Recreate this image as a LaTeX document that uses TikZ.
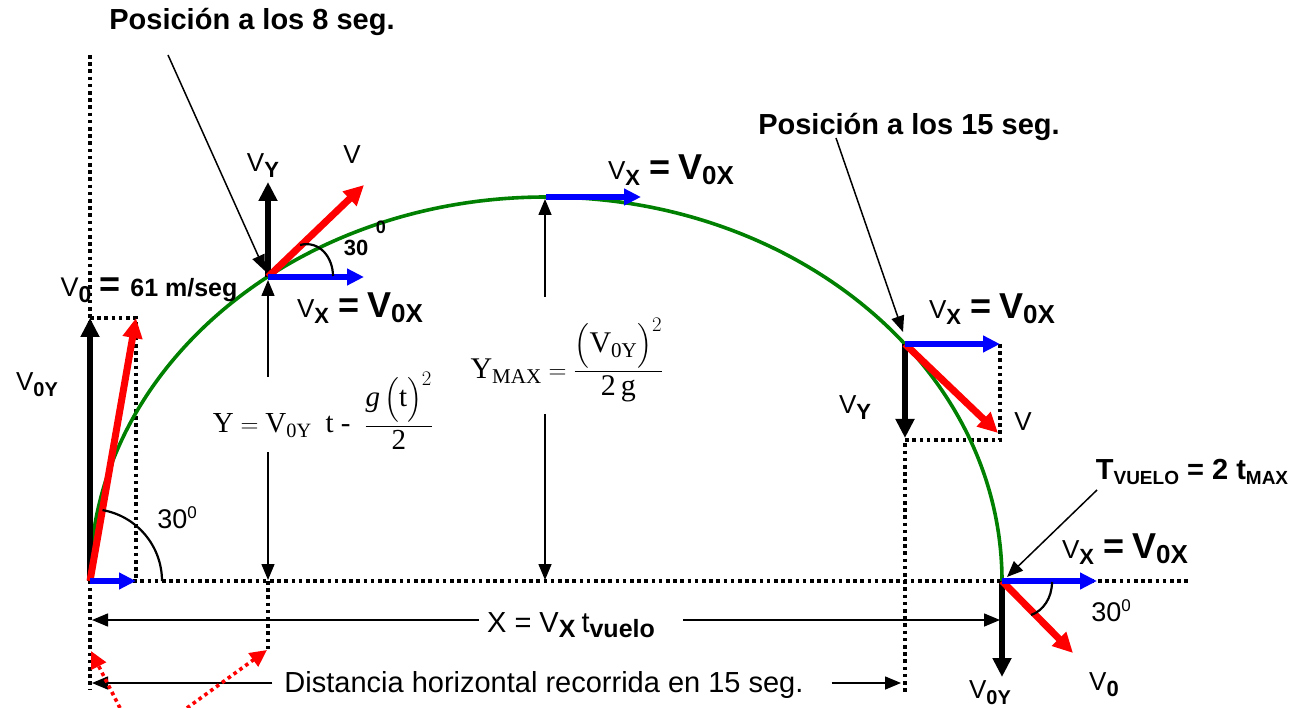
\documentclass[tikz,border=0pt]{standalone}
\usepackage{amsmath}
\usepackage[no-math]{fontspec}
\setmainfont{Liberation Sans}
\newfontfamily\serifs{Liberation Serif}
\usetikzlibrary{arrows.meta}
\newcommand{\fs}[1]{\fontsize{#1}{#1}\selectfont}
\newcommand{\vxeq}{{\fs{26}V}\raisebox{-6pt}{\bfseries\fs{22}X}\hspace{9pt}{\bfseries\fs{36}=\hspace{8pt}V}\raisebox{-5pt}{\bfseries\fs{26}0X}}
\newcommand{\vy}{{\fs{26}V}\raisebox{-6pt}{\bfseries\fs{22}Y}}
\newcommand{\voy}{{\fs{26}V}\raisebox{-6pt}{\bfseries\fs{20}0Y}}
\newcommand{\vo}{{\fs{26}V}\raisebox{-6pt}{\bfseries\fs{22}0}}
\newcommand{\thirty}{{\fs{27}30}\raisebox{10pt}{\fs{17}0}}
\begin{document}
\begin{tikzpicture}[x=1pt,y=-1pt,
  vecb/.style={line width=6pt,black,-{Triangle[length=19pt,width=18pt]}},
  vecr/.style={line width=7pt,red,-{Triangle[length=20pt,width=19pt]}},
  vecu/.style={line width=5.5pt,blue,-{Triangle[length=17pt,width=16pt]}},
  dimar/.style={line width=1.5pt,black,-{Triangle[length=16pt,width=13pt]}},
  dotl/.style={line width=3.6pt,dash pattern=on 3.6pt off 3.6pt},
  reddot/.style={line width=3.6pt,red,dash pattern=on 3.6pt off 3.6pt,-{Triangle[length=17pt,width=16pt]}},
  traj/.style={line width=3.6pt,green!50!black},
  lbl/.style={inner sep=0pt},
  angarc/.style={line width=2.2pt,black}
]
\useasboundingbox (0,0) rectangle (1304,708);
% key points
\coordinate (O) at (90,581);
\coordinate (P8) at (268,277);
\coordinate (A) at (546,197);
\coordinate (P15) at (905,344);
\coordinate (E) at (1002,581);
% dotted guide lines
\draw[dotl] (90,55) -- (90,690);
\draw[dotl] (O) -- (1190,581);
\draw[dotl] (90,318) -- (136,318) -- (136,581);
\draw[dotl] (268,581) -- (268,650);
\draw[dotl] (1000,344) -- (1000,440) -- (905,440) -- (905,693);
% trajectory
\draw[traj] (O) arc[start angle=180,end angle=360,x radius=456,y radius=384];
% origin vectors
\coordinate (O1) at (90,318);
\coordinate (O2) at (136,318);
\coordinate (O3) at (136,581);
\draw[vecb] (O) -- (O1);
\draw[vecr] (O) -- (O2);
\draw[vecu] (O) -- (O3);
\draw[angarc] (162,581) arc[start angle=0,end angle=-80,radius=72];
% 8 s vectors
\coordinate (P8y) at (268,182);
\coordinate (P8v) at (364,185);
\coordinate (P8x) at (364,277);
\draw[vecb] (P8) -- (P8y);
\draw[vecr] (P8) -- (P8v);
\draw[vecu] (P8) -- (P8x);
\draw[angarc] (300,245) .. controls (320,240) and (333,258) .. (333,276);
% apex
\coordinate (Ax) at (641,197);
\draw[vecu] (A) -- (Ax);
% 15 s vectors
\coordinate (P15x) at (1000,344);
\coordinate (P15y) at (905,438);
\coordinate (P15v) at (998,433);
\draw[vecb] (P15) -- (P15y);
\draw[vecr] (P15) -- (P15v);
\draw[vecu] (P15) -- (P15x);
% end vectors
\coordinate (Ey) at (1002,677);
\coordinate (Ev) at (1073,653);
\coordinate (Ex) at (1097,581);
\draw[vecb] (E) -- (Ey);
\draw[vecr] (E) -- (Ev);
\draw[vecu] (E) -- (Ex);
\draw[angarc] (1052,582) .. controls (1052,598) and (1043,611) .. (1031,615);
% formulas
\node[lbl] (fy) at (323,411) {\serifs\fs{29}$\text{Y} = \text{V}_{\text{0Y}}\;\;\text{t -}\;\;\dfrac{\textit{g}\,\Bigl(\text{t}\Bigr)^{2}}{\text{2}}$};
\node[lbl] (fym) at (567,360) {\serifs\fs{30}$\text{Y}_{\text{MAX}} = \dfrac{\Bigl(\text{V}_{\text{0Y}}\Bigr)^{2}}{\text{2\,g}}$};
% height dimension arrows
\coordinate (h8a) at (268,377); \coordinate (h8b) at (268,280);
\coordinate (h8c) at (268,452); \coordinate (h8d) at (268,580);
\draw[dimar] (h8a) -- (h8b);
\draw[dimar] (h8c) -- (h8d);
\coordinate (hma) at (545,297); \coordinate (hmb) at (545,199);
\coordinate (hmc) at (545,414); \coordinate (hmd) at (545,580);
\draw[dimar] (hma) -- (hmb);
\draw[dimar] (hmc) -- (hmd);
% top labels and pointers
\node[lbl] (l8) at (252,22) {\bfseries\fs{29}Posición a los 8 seg.};
\node[lbl] (l15) at (909,127) {\bfseries\fs{29}Posición a los 15 seg.};
\coordinate (s8) at (168,55); \coordinate (t8) at (265,271);
\coordinate (s15) at (836,138); \coordinate (t15) at (903,332);
\draw[dimar] (s8) -- (t8);
\draw[dimar] (s15) -- (t15);
\node[lbl] (tv) at (1192,472) {\bfseries\fs{29}T\raisebox{-5pt}{\fs{19}VUELO} = 2 t\raisebox{-5pt}{\fs{19}MAX}};
\coordinate (stv) at (1097,490); \coordinate (ttv) at (1007,577);
\draw[dimar] (stv) -- (ttv);
% vector labels
\node[lbl] (lv0) at (149,290) {{\fs{27}V}\raisebox{-6pt}{\bfseries\fs{23}0}\hspace{8pt}{\bfseries\fs{36}=}\hspace{10pt}{\bfseries\fs{25}61 m/seg}};
\node[lbl] (lv0y) at (37,385) {\voy};
\node[lbl] (la0) at (177,518) {\thirty};
\node[lbl] (l8y) at (263,166) {\vy};
\node[lbl] (l8v) at (352,155) {\fs{26}V};
\node[lbl] (l8x) at (360,308) {\vxeq};
\node[lbl] (l8a) at (356,248) {\bfseries\fs{22}30};
\node[lbl] (l8b) at (381,227) {\bfseries\fs{18}0};
\node[lbl] (lax) at (671,170) {\vxeq};
\node[lbl] (l15x) at (992,309) {\vxeq};
\node[lbl] (l15y) at (855,408) {\vy};
\node[lbl] (l15v) at (1023,422) {\fs{26}V};
\node[lbl] (lex) at (1125,549) {\vxeq};
\node[lbl] (lea) at (1111,611) {\thirty};
\node[lbl] (ley) at (990,693) {\voy};
\node[lbl] (lev) at (1104,685) {\vo};
% range dimension
\node[lbl] (xt) at (571,625) {{\fs{29}X = V}\raisebox{-5pt}{\bfseries\fs{25}X}\hspace{6pt}{\fs{29}t}\raisebox{-5pt}{\bfseries\fs{25}vuelo}};
\coordinate (xl) at (92,620); \coordinate (xr) at (1000,620);
\draw[dimar] ([xshift=-8pt]xt.west |- xl) -- (xl);
\draw[dimar] ([xshift=28pt]xt.east |- xr) -- (xr);
\node[lbl] (dt) at (544,685) {\fs{29}Distancia horizontal recorrida en 15 seg.};
\coordinate (dl) at (92,683); \coordinate (dr) at (901,683);
\draw[dimar] ([xshift=-12pt]dt.west |- dl) -- (dl);
\draw[dimar] ([xshift=28pt]dt.east |- dr) -- (dr);
% red dotted pointers
\coordinate (r1s) at (120,708); \coordinate (r1t) at (91,651);
\coordinate (r2s) at (187,708); \coordinate (r2t) at (267,650);
\draw[reddot] (r1s) -- (r1t);
\draw[reddot] (r2s) -- (r2t);
\end{tikzpicture}
\end{document}
